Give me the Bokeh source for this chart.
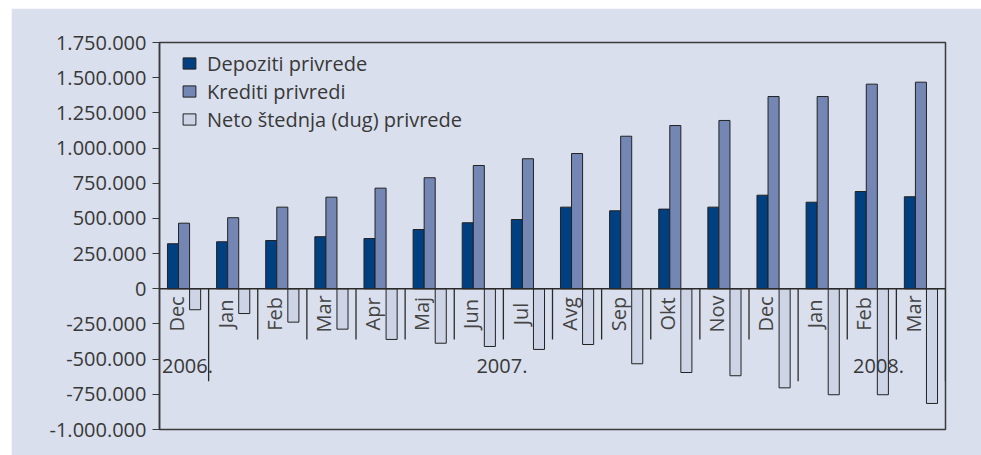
import numpy as np
from bokeh.plotting import figure
from bokeh.models import (FactorRange, Range1d, ColumnDataSource, Legend, LegendItem,
                          FixedTicker, Spacer, Span)
from bokeh.transform import dodge
from bokeh.layouts import column, row
from bokeh.core.properties import value
from bokeh.embed import file_html
from bokeh.resources import INLINE

# ---------------- data ----------------
months = ["Dec", "Jan", "Feb", "Mar", "Apr", "Maj", "Jun", "Jul",
          "Avg", "Sep", "Okt", "Nov", "Dec", "Jan", "Feb", "Mar"]
years = [2006, 2007, 2007, 2007, 2007, 2007, 2007, 2007,
         2007, 2007, 2007, 2007, 2007, 2008, 2008, 2008]
depoziti = [320000, 334000, 343000, 370000, 357000, 421000, 469000, 492000,
            580000, 554000, 566000, 580000, 665000, 615000, 691000, 654000]
krediti = [466000, 505000, 580000, 651000, 715000, 789000, 876000, 924000,
           961000, 1084000, 1160000, 1196000, 1366000, 1366000, 1454000, 1468000]
neto = [-149000, -176000, -237000, -287000, -360000, -387000, -410000, -431000,
        -396000, -533000, -595000, -618000, -704000, -753000, -753000, -815000]
series_names = ["Depoziti privrede", "Krediti privredi", "Neto štednja (dug) privrede"]
y_ticks = [-1000000, -750000, -500000, -250000, 0, 250000, 500000, 750000,
           1000000, 1250000, 1500000, 1750000]
y_tick_labels = ["-1.000.000", "-750.000", "-500.000", "-250.000", "0", "250.000",
                 "500.000", "750.000", "1.000.000", "1.250.000", "1.500.000", "1.750.000"]
year_labels = ["2006.", "2007.", "2008."]

# ---------------- styling ----------------
BG = "#d9dfec"
TXT = "#383838"
FONT = "Open Sans"
FS = "20px"
C_DEP = "#003f80"
C_KRED = "#7386b4"
C_NETO = "#cdd4e6"
EDGE = "#222222"
SEP_SHORT = -360000
SEP_LONG = -657000
LABEL_Y = -179000
YEAR_Y = -552000

factors = [f"{m} {y}" for m, y in zip(months, years)]
sep_bottom = []
for i in range(len(factors)):
    last = i == len(factors) - 1
    sep_bottom.append(SEP_LONG if (last or years[i + 1] != years[i]) else SEP_SHORT)

src = ColumnDataSource(dict(x=factors, dep=depoziti, kred=krediti, neto=neto,
                            month=months, sep_bottom=sep_bottom))

p = figure(width=970, height=447,
           x_range=FactorRange(factors=factors, range_padding=0),
           y_range=Range1d(-1000000, 1750000),
           output_backend="svg", toolbar_location=None, x_axis_location=None,
           min_border_left=148, min_border_right=36, min_border_top=34,
           min_border_bottom=26)
p.background_fill_color = BG
p.border_fill_color = BG
p.outline_line_color = "#3a3a3a"
p.outline_line_width = 1.5
p.grid.visible = False

W = 0.225
r1 = p.vbar(x=dodge("x", -W, range=p.x_range), top="dep", width=W, source=src,
            fill_color=C_DEP, line_color=EDGE, line_width=1)
r2 = p.vbar(x=dodge("x", 0, range=p.x_range), top="kred", width=W, source=src,
            fill_color=C_KRED, line_color=EDGE, line_width=1)
r3 = p.vbar(x=dodge("x", W, range=p.x_range), top="neto", width=W, source=src,
            fill_color=C_NETO, line_color=EDGE, line_width=1)

p.add_layout(Span(location=0, dimension="width", line_color="#2a2a2a", line_width=1.5))

p.segment(x0=dodge("x", 0.5, range=p.x_range), y0=0,
          x1=dodge("x", 0.5, range=p.x_range), y1="sep_bottom",
          source=src, line_color="#2a2a2a", line_width=1.3)

p.text(x=dodge("x", -0.16, range=p.x_range), y=LABEL_Y, text="month", source=src,
       angle=np.pi / 2, text_align="center", text_baseline="middle",
       text_font=value(FONT), text_font_size=FS, text_color="#444444")

year_anchor = [("Dec 2006", 0.07), ("Jun 2007", 0.47), ("Feb 2008", 0.137)]
for lab, (fac, off) in zip(year_labels, year_anchor):
    ysrc = ColumnDataSource(dict(x=[fac], t=[lab]))
    p.text(x=dodge("x", off, range=p.x_range), y=YEAR_Y, text="t", source=ysrc,
           text_align="center", text_baseline="middle",
           text_font=value(FONT), text_font_size=FS, text_color=TXT)

ax = p.yaxis[0]
ax.ticker = FixedTicker(ticks=y_ticks)
ax.major_label_overrides = {t: l for t, l in zip(y_ticks, y_tick_labels)}
ax.major_label_text_font = FONT
ax.major_label_text_font_size = FS
ax.major_label_text_color = TXT
ax.axis_line_color = "#3a3a3a"
ax.axis_line_width = 1.5
ax.major_tick_line_color = "#3a3a3a"
ax.major_tick_out = 7
ax.major_tick_in = 0
ax.minor_tick_out = 0
ax.minor_tick_in = 0
ax.major_label_standoff = 6

legend = Legend(items=[LegendItem(label=series_names[0], renderers=[r1]),
                       LegendItem(label=series_names[1], renderers=[r2]),
                       LegendItem(label=series_names[2], renderers=[r3])],
                location=(22, 296))
legend.padding = 0
legend.margin = 0
legend.border_line_color = None
legend.background_fill_alpha = 0
legend.glyph_width = 16
legend.glyph_height = 14
legend.label_standoff = 10
legend.label_height = 28
legend.spacing = 0
legend.label_text_font = FONT
legend.label_text_font_size = FS
legend.label_text_color = TXT
p.add_layout(legend)

layout = column(Spacer(width=981, height=8), row(Spacer(width=11, height=447), p))
open("out.html", "w").write(file_html(layout, INLINE))
